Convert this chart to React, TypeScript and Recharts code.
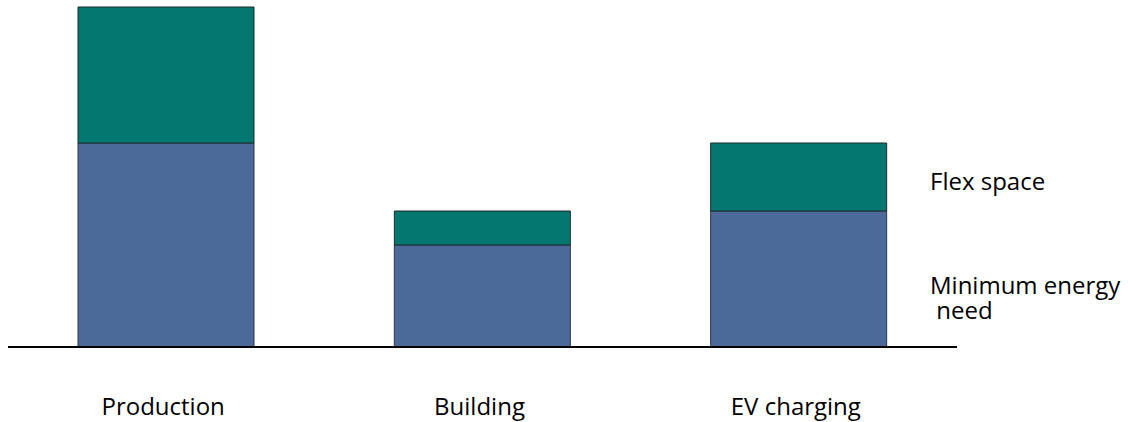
import { BarChart, Bar, XAxis, YAxis } from 'recharts'

const categories = ['Production', 'Building', 'EV charging']
const minimumNeed = [6, 3, 4]
const flexSpace = [4, 1, 2]
const seriesNames = ['Flex space', 'Minimum energy\n need']

const data = categories.map((name, i) => ({
  name,
  minimum: minimumNeed[i],
  flex: flexSpace[i],
}))

const FONT = '"Open Sans", sans-serif'

interface TickProps { x?: number; y?: number; payload?: { value: string } }
const CategoryTick = ({ x = 0, y = 0, payload }: TickProps) => (
  <text x={x - 3} y={y + 60} textAnchor="middle" fill="#000" fontSize={24} fontFamily={FONT}>
    {payload?.value}
  </text>
)

export default function App() {
  return (
    <div style={{ position: 'absolute', left: 0, top: 0, width: 1128, height: 422, background: '#fff' }}>
      <BarChart
        width={1128}
        height={422}
        data={data}
        margin={{ top: 7, right: 171, bottom: 0, left: 8 }}
        barCategoryGap={0}
      >
        <XAxis
          dataKey="name"
          axisLine={{ stroke: '#000', strokeWidth: 2 }}
          tickLine={false}
          tick={<CategoryTick />}
          height={75}
        />
        <YAxis hide domain={[0, 10]} />
        <Bar
          dataKey="minimum"
          stackId="a"
          fill="#4B6A99"
          stroke="#2b3445"
          strokeWidth={1}
          barSize={176}
          isAnimationActive={false}
        />
        <Bar
          dataKey="flex"
          stackId="a"
          fill="#047870"
          stroke="#1f2b2b"
          strokeWidth={1}
          barSize={176}
          isAnimationActive={false}
        />
      </BarChart>
      <div
        style={{
          position: 'absolute', left: 930, top: 166, fontFamily: FONT,
          fontSize: 24, color: '#000',
        }}
      >
        <div style={{ lineHeight: '29px', marginBottom: 77 }}>{seriesNames[0]}</div>
        <div style={{ whiteSpace: 'pre', lineHeight: '25px' }}>{seriesNames[1]}</div>
      </div>
    </div>
  )
}
